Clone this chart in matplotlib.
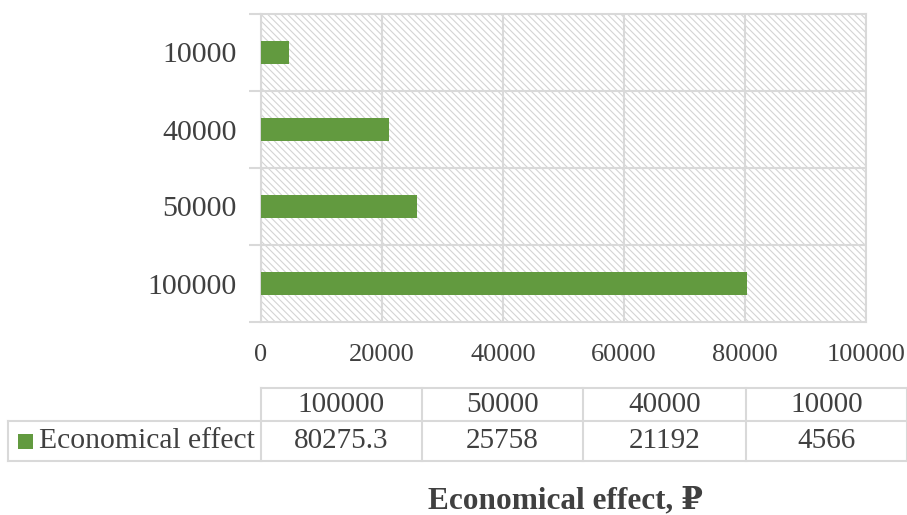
import matplotlib.pyplot as plt
from matplotlib.patches import Rectangle
from matplotlib.lines import Line2D

categories = ['100000', '50000', '40000', '10000']
values = [80275.3, 25758, 21192, 4566]
value_labels = ['80275.3', '25758', '21192', '4566']
x_ticks = [0, 20000, 40000, 60000, 80000, 100000]
series_name = 'Economical effect'
title = 'Economical effect, \u20bd'

green = '#629a3f'
grid = '#d9d9d9'
txt = '#404040'

plt.rcParams['font.family'] = ['Liberation Serif', 'DejaVu Serif']
plt.rcParams['hatch.color'] = '#d4d4d4'
plt.rcParams['hatch.linewidth'] = 0.8

W, H = 907, 515
fig = plt.figure(figsize=(W / 100, H / 100), dpi=100)


def fx(px):
    return px / W


def fy(py):
    return 1 - py / H


ax = fig.add_axes([fx(261), fy(322), fx(866) - fx(261), fy(14) - fy(322)])

# hatched background
bg = Rectangle((0, 0), 1, 1, transform=ax.transAxes, facecolor='white',
               edgecolor='#d4d4d4', hatch='\\\\\\\\\\', linewidth=0, zorder=0)
ax.add_patch(bg)

pos = list(range(len(categories)))
ax.barh(pos, values, height=0.29, color=green, zorder=3)

ax.set_xlim(0, 100000)
ax.set_ylim(-0.5, len(categories) - 0.5)
ax.set_xticks(x_ticks)
ax.set_xticklabels([str(t) for t in x_ticks], fontsize=19, color=txt)
ax.tick_params(axis='x', length=0, pad=16)

ax.set_yticks(pos)
ax.set_yticklabels(categories, fontsize=21.5, color=txt)
ax.tick_params(axis='y', which='major', length=0, pad=17.5)
ax.set_yticks([p + 0.5 for p in pos[:-1]] + [-0.5, len(pos) - 0.5], minor=True)
ax.tick_params(axis='y', which='minor', length=9, width=1.5, color=grid)

for p in pos[:-1]:
    ax.axhline(p + 0.5, color=grid, lw=1.5, zorder=1)
for t in x_ticks:
    ax.axvline(t, color=grid, lw=1.5, zorder=1)
for s in ax.spines.values():
    s.set_color(grid)
    s.set_linewidth(1.5)

# data table
col_x = [261, 422, 583, 746, 907]
row_y = [388, 421, 461]
left_x = 8


def hline(x0, x1, y):
    fig.add_artist(Line2D([fx(x0), fx(x1)], [fy(y), fy(y)], color=grid, lw=1.5))


def vline(x, y0, y1):
    fig.add_artist(Line2D([fx(x), fx(x)], [fy(y0), fy(y1)], color=grid, lw=1.5))


hline(col_x[0], col_x[-1], row_y[0])
hline(left_x, col_x[-1], row_y[1])
hline(left_x, col_x[-1], row_y[2])
for x in col_x:
    vline(x, row_y[0], row_y[2])
vline(left_x, row_y[1], row_y[2])

for i, (c, v) in enumerate(zip(categories, value_labels)):
    cx = (col_x[i] + col_x[i + 1]) / 2
    fig.text(fx(cx), fy((row_y[0] + row_y[1]) / 2), c, ha='center', va='center',
             fontsize=21, color=txt)
    fig.text(fx(cx), fy((row_y[1] + row_y[2]) / 2), v, ha='center', va='center',
             fontsize=21, color=txt)

fig.add_artist(Rectangle((fx(18), fy(449)), fx(15), fy(434) - fy(449),
                         transform=fig.transFigure, facecolor=green, edgecolor='none'))
fig.text(fx(39), fy((row_y[1] + row_y[2]) / 2), series_name, ha='left', va='center',
         fontsize=21.3, color=txt)

fig.text(fx(565), fy(501), title, ha='center', va='center', fontsize=22.5,
         fontweight='bold', color=txt)

fig.savefig('out.png', dpi=100)
